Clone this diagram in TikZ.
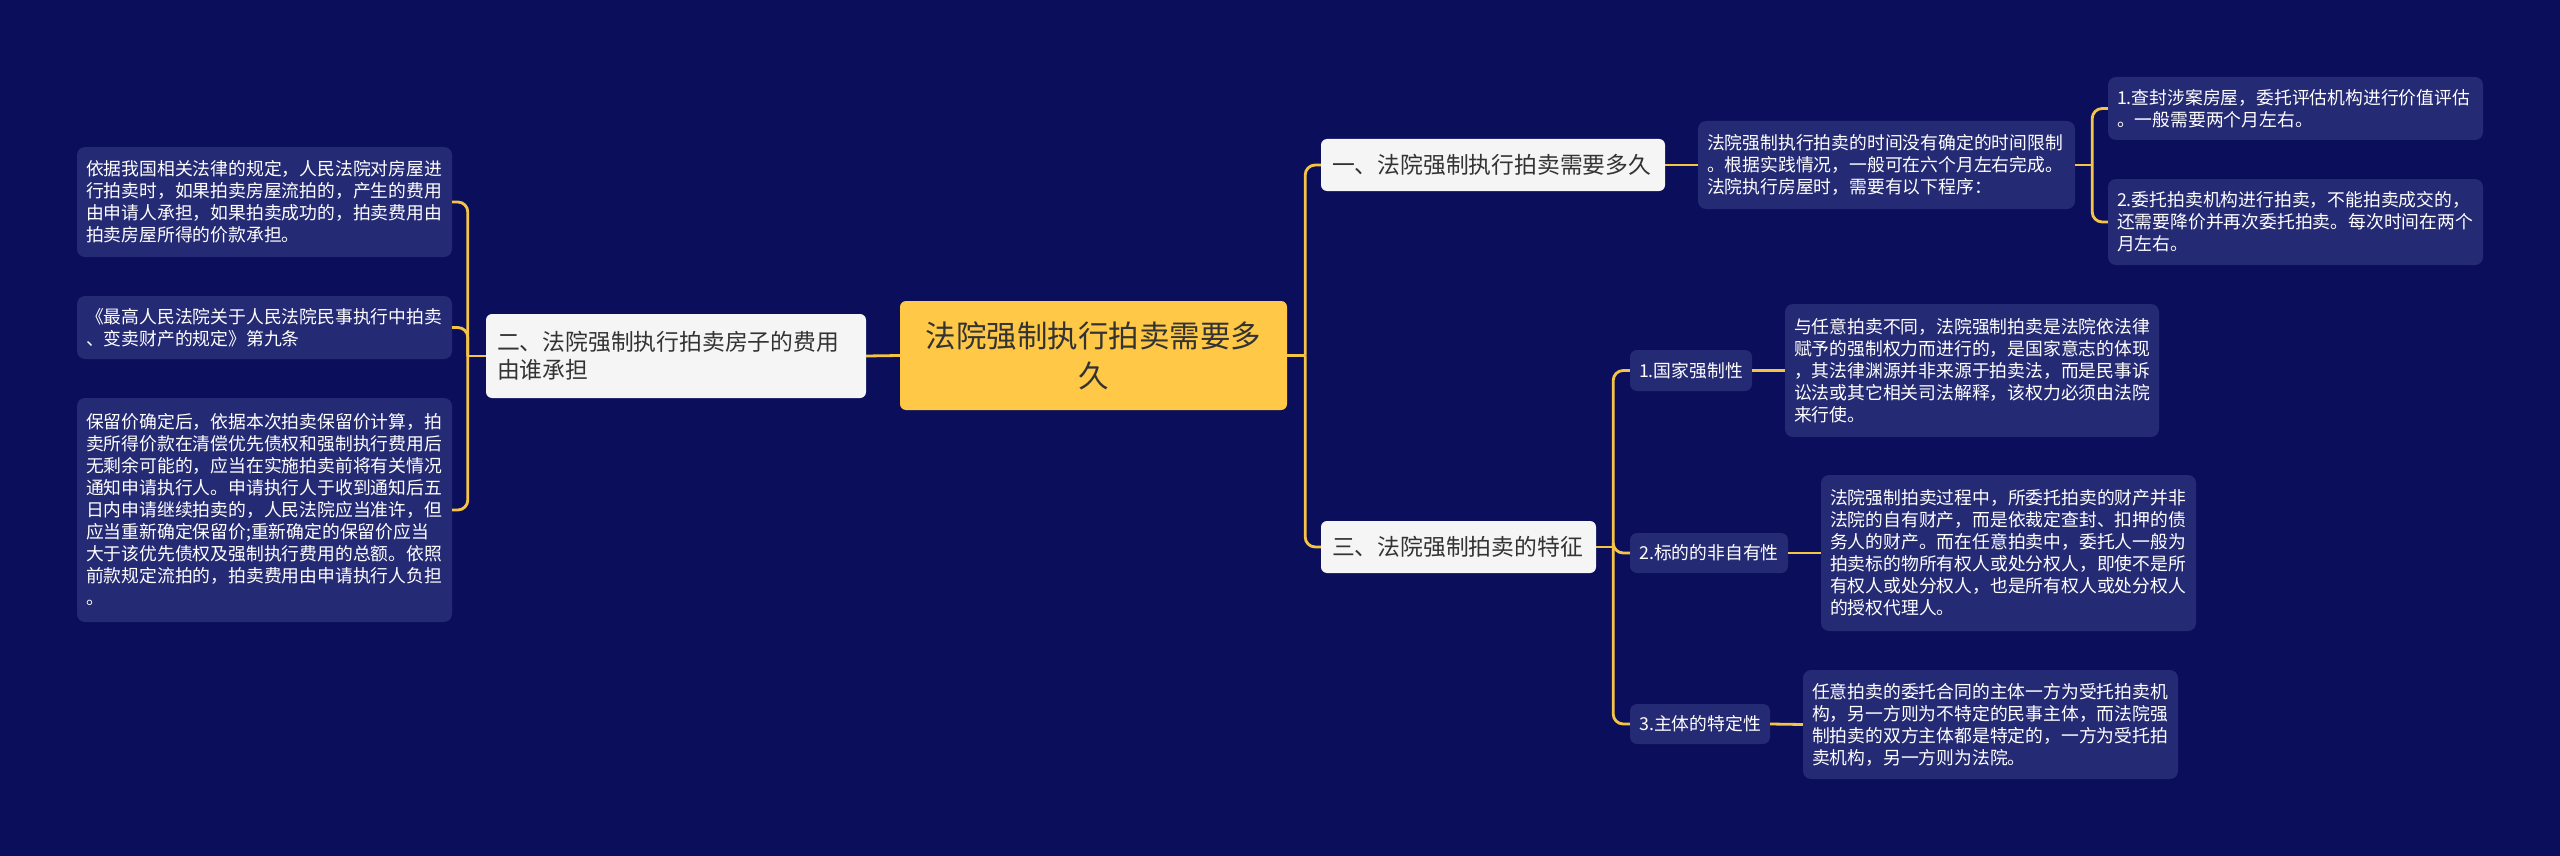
\documentclass[tikz,border=0pt]{standalone}
\usepackage{fontspec}
\setmainfont{Noto Sans CJK SC}
\definecolor{bgc}{HTML}{0B0E5B}
\definecolor{leafc}{HTML}{252A74}
\definecolor{rootc}{HTML}{FFC947}
\definecolor{branchc}{HTML}{F5F5F5}
\definecolor{linec}{HTML}{F6C445}
\definecolor{darktext}{HTML}{333333}
\tikzset{
  conn/.style={draw=linec, line width=2.8pt, rounded corners=10pt},
  rootbox/.style={fill=rootc, text=darktext, rounded corners=6pt, align=center,
    font=\fontsize{30.5}{40}\selectfont, inner sep=0pt},
  branchbox/.style={fill=branchc, text=darktext, rounded corners=6pt, align=left,
    font=\fontsize{22.8}{28}\selectfont, inner xsep=11pt, inner ysep=0pt},
  leafbox/.style={fill=leafc, text=white, rounded corners=8pt, align=left,
    font=\fontsize{17.8}{22}\selectfont, inner xsep=9pt, inner ysep=0pt},
  smallbox/.style={fill=leafc, text=white, rounded corners=7pt, align=center,
    font=\fontsize{17.8}{22}\selectfont, inner sep=0pt},
}
\newcommand{\bx}[2]{minimum width=#1pt, minimum height=#2pt, text width=#1pt-18pt}
\begin{document}
\begin{tikzpicture}[x=1pt,y=-1pt]
\fill[bgc] (0,0) rectangle (2560,856);
\useasboundingbox (0,0) rectangle (2560,856);

% root
\node[rootbox, minimum width=387pt, minimum height=109pt, text width=360pt] (root) at (1093.5,355.5)
  {法院强制执行拍卖需要多\\久};

% left branch
\node[branchbox, minimum width=380pt, minimum height=84pt, text width=358pt] (b2) at (676,356)
  {二、法院强制执行拍卖房子的费用\\由谁承担};

% right branches
\node[branchbox, minimum width=344pt, minimum height=52pt, text width=322pt] (b1) at (1493,165)
  {一、法院强制执行拍卖需要多久};
\node[branchbox, minimum width=275pt, minimum height=52pt, text width=253pt] (b3) at (1458.5,547)
  {三、法院强制拍卖的特征};

% left leaves
\node[leafbox, minimum width=375pt, minimum height=110pt, text width=357pt] (ll1) at (264.5,202)
  {依据我国相关法律的规定，人民法院对房屋进\\行拍卖时，如果拍卖房屋流拍的，产生的费用\\由申请人承担，如果拍卖成功的，拍卖费用由\\拍卖房屋所得的价款承担。};
\node[leafbox, minimum width=375pt, minimum height=63pt, text width=357pt] (ll2) at (264.5,327.5)
  {《最高人民法院关于人民法院民事执行中拍卖\\、变卖财产的规定》第九条};
\node[leafbox, minimum width=375pt, minimum height=224pt, text width=357pt] (ll3) at (264.5,510)
  {保留价确定后，依据本次拍卖保留价计算，拍\\卖所得价款在清偿优先债权和强制执行费用后\\无剩余可能的，应当在实施拍卖前将有关情况\\通知申请执行人。申请执行人于收到通知后五\\日内申请继续拍卖的，人民法院应当准许，但\\应当重新确定保留价;重新确定的保留价应当\\大于该优先债权及强制执行费用的总额。依照\\前款规定流拍的，拍卖费用由申请执行人负担\\。};

% branch 1 children
\node[leafbox, minimum width=377pt, minimum height=88pt, text width=359pt] (m1) at (1886.5,165)
  {法院强制执行拍卖的时间没有确定的时间限制\\。根据实践情况，一般可在六个月左右完成。\\法院执行房屋时，需要有以下程序：};
\node[leafbox, minimum width=375pt, minimum height=63pt, text width=357pt] (r1) at (2295.5,108.5)
  {1.查封涉案房屋，委托评估机构进行价值评估\\。一般需要两个月左右。};
\node[leafbox, minimum width=375pt, minimum height=86pt, text width=357pt] (r2) at (2295.5,222)
  {2.委托拍卖机构进行拍卖，不能拍卖成交的，\\还需要降价并再次委托拍卖。每次时间在两个\\月左右。};

% branch 3 children
\node[smallbox, minimum width=122pt, minimum height=41pt] (s1) at (1691,370.5) {1.国家强制性};
\node[smallbox, minimum width=158pt, minimum height=40pt] (s2) at (1709,553) {2.标的的非自有性};
\node[smallbox, minimum width=140pt, minimum height=40pt] (s3) at (1700,724) {3.主体的特定性};

\node[leafbox, minimum width=374pt, minimum height=133pt, text width=356pt] (t1) at (1972,370.5)
  {与任意拍卖不同，法院强制拍卖是法院依法律\\赋予的强制权力而进行的，是国家意志的体现\\，其法律渊源并非来源于拍卖法，而是民事诉\\讼法或其它相关司法解释，该权力必须由法院\\来行使。};
\node[leafbox, minimum width=375pt, minimum height=156pt, text width=357pt] (t2) at (2008.5,553)
  {法院强制拍卖过程中，所委托拍卖的财产并非\\法院的自有财产，而是依裁定查封、扣押的债\\务人的财产。而在任意拍卖中，委托人一般为\\拍卖标的物所有权人或处分权人，即使不是所\\有权人或处分权人，也是所有权人或处分权人\\的授权代理人。};
\node[leafbox, minimum width=375pt, minimum height=109pt, text width=357pt] (t3) at (1990.5,724.5)
  {任意拍卖的委托合同的主体一方为受托拍卖机\\构，另一方则为不特定的民事主体，而法院强\\制拍卖的双方主体都是特定的，一方为受托拍\\卖机构，另一方则为法院。};

% connectors
\draw[conn] (root.west) -- (b2.east);
\draw[conn] (b2.west) -- ++(-18,0) coordinate (jl);
\draw[conn] (jl) |- (ll1.east);
\draw[conn] (jl) |- (ll2.east);
\draw[conn] (jl) |- (ll3.east);

\draw[conn] (root.east) -- ++(18,0) coordinate (jr);
\draw[conn] (jr) |- (b1.west);
\draw[conn] (jr) |- (b3.west);

\draw[conn] (b1.east) -- (m1.west);
\draw[conn] (m1.east) -- ++(17,0) coordinate (jm);
\draw[conn] (jm) |- (r1.west);
\draw[conn] (jm) |- (r2.west);

\draw[conn] (b3.east) -- ++(17,0) coordinate (j3);
\draw[conn] (j3) |- (s1.west);
\draw[conn] (j3) |- (s2.west);
\draw[conn] (j3) |- (s3.west);

\draw[conn] (s1.east) -- (t1.west);
\draw[conn] (s2.east) -- (t2.west);
\draw[conn] (s3.east) -- (t3.west);
\end{tikzpicture}
\end{document}
